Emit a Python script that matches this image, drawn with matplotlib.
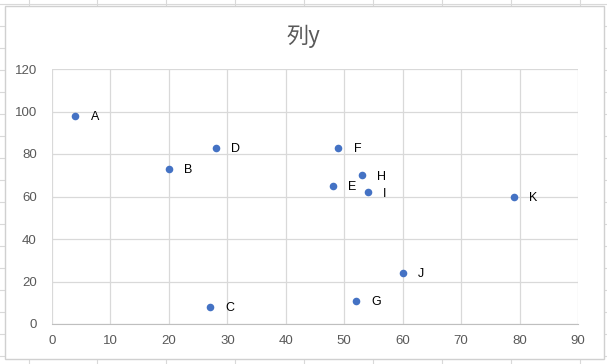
import matplotlib
matplotlib.use('Agg')
import matplotlib.pyplot as plt
from matplotlib.lines import Line2D
from matplotlib.patches import Rectangle

# data
names = ['A', 'B', 'C', 'D', 'E', 'F', 'G', 'H', 'I', 'J', 'K']
xs = [4, 20, 27, 28, 48, 49, 52, 53, 54, 60, 79]
ys = [98, 73, 8, 83, 65, 83, 11, 70, 62, 24, 60]
xticks = list(range(0, 91, 10))
yticks = list(range(0, 121, 20))
title = '列y'

plt.rcParams['font.family'] = ['Noto Sans CJK JP', 'DejaVu Sans']

fig = plt.figure(figsize=(6.07, 3.64), dpi=100)
W, H = 607, 364

# spreadsheet cell lines behind the chart
for xp in [29, 97, 166, 235, 304, 373, 442, 511, 580]:
    fig.add_artist(Line2D([xp / W, xp / W], [0, 1], color='#d9d9d9', lw=0.8, zorder=0))
for yp in [4, 26, 48, 70, 92, 114, 136, 158, 180, 202, 224, 246, 268, 290, 312, 334, 356]:
    fig.add_artist(Line2D([0, 1], [1 - yp / H, 1 - yp / H], color='#d9d9d9', lw=0.8, zorder=0))
# chart area
fig.add_artist(Rectangle((5 / W, 5 / H), 599 / W, 353 / H, facecolor='white',
                         edgecolor='#d0d0d0', lw=1.0, zorder=1))

ax = fig.add_axes([52 / W, 40 / H, 526 / W, 255 / H], zorder=2)
ax.set_facecolor('white')
ax.scatter(xs, ys, s=30, color='#4472C4', zorder=3, linewidths=0)
for n, x, y in zip(names, xs, ys):
    ax.annotate(n, (x, y), xytext=(11, -1), textcoords='offset points',
                ha='left', va='center', fontsize=9, color='black',
                family=['Liberation Sans', 'DejaVu Sans'])

ax.set_xlim(0, 90)
ax.set_ylim(0, 120)
ax.set_xticks(xticks)
ax.set_yticks(yticks)
ax.grid(True, color='#d9d9d9', lw=0.9)
ax.set_axisbelow(True)
for side in ['top', 'right']:
    ax.spines[side].set_visible(False)
ax.spines['left'].set_visible(False)
ax.spines['bottom'].set_color('#bfbfbf')
ax.tick_params(length=0, labelsize=9.5, colors='#595959')
ax.tick_params(axis='x', pad=8)
ax.tick_params(axis='y', pad=11)
for lab in ax.get_xticklabels() + ax.get_yticklabels():
    lab.set_family(['Liberation Sans', 'DejaVu Sans'])

fig.text(0.5, 1 - 36 / H, title, ha='center', va='center', fontsize=16,
         color='#595959', family=['Noto Sans CJK JP', 'DejaVu Sans'])

fig.savefig('out.png', dpi=100)
